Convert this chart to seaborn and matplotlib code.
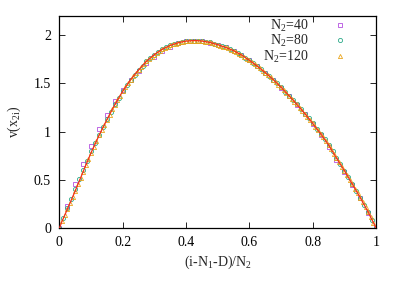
import matplotlib
matplotlib.use('Agg')
import matplotlib.pyplot as plt
import numpy as np
import pandas as pd
import seaborn as sns

# values
v40 = [0.000, 0.228, 0.455, 0.662, 0.855, 1.024, 1.176, 1.314, 1.434, 1.538,
       1.628, 1.714, 1.779, 1.834, 1.883, 1.917, 1.938, 1.945, 1.938, 1.924,
       1.897, 1.876, 1.841, 1.793, 1.738, 1.676, 1.610, 1.538, 1.455, 1.366,
       1.276, 1.179, 1.083, 0.962, 0.841, 0.710, 0.583, 0.445, 0.307, 0.159,
       0.000]

v80 = [0.000, 0.105, 0.205, 0.305, 0.405, 0.505, 0.605, 0.700, 0.800, 0.885,
       0.970, 1.050, 1.132, 1.208, 1.285, 1.353, 1.420, 1.480, 1.540, 1.590,
       1.640, 1.685, 1.730, 1.765, 1.800, 1.830, 1.855, 1.876, 1.895, 1.910,
       1.922, 1.932, 1.939, 1.943, 1.945, 1.943, 1.940, 1.933, 1.925, 1.914,
       1.902, 1.889, 1.874, 1.858, 1.840, 1.818, 1.795, 1.768, 1.740, 1.709,
       1.678, 1.645, 1.612, 1.576, 1.540, 1.500, 1.460, 1.416, 1.372, 1.327,
       1.282, 1.235, 1.187, 1.137, 1.085, 1.032, 0.978, 0.920, 0.862, 0.794,
       0.725, 0.660, 0.595, 0.525, 0.455, 0.385, 0.315, 0.240, 0.165, 0.083,
       0.000]

v120 = [0.000, 0.070, 0.132, 0.195, 0.258, 0.322, 0.385, 0.452, 0.518, 0.585,
        0.652, 0.715, 0.782, 0.840, 0.900, 0.960, 1.015, 1.069, 1.125, 1.177,
        1.230, 1.280, 1.327, 1.373, 1.420, 1.460, 1.500, 1.540, 1.573, 1.607,
        1.640, 1.670, 1.700, 1.730, 1.753, 1.777, 1.800, 1.818, 1.837, 1.855,
        1.868, 1.882, 1.895, 1.904, 1.913, 1.922, 1.928, 1.934, 1.939, 1.941,
        1.943, 1.945, 1.944, 1.942, 1.940, 1.935, 1.930, 1.925, 1.917, 1.910,
        1.902, 1.893, 1.883, 1.874, 1.863, 1.851, 1.840, 1.825, 1.810, 1.795,
        1.777, 1.758, 1.740, 1.719, 1.699, 1.678, 1.656, 1.634, 1.612, 1.588,
        1.564, 1.540, 1.513, 1.487, 1.460, 1.431, 1.401, 1.372, 1.342, 1.312,
        1.282, 1.250, 1.219, 1.187, 1.153, 1.119, 1.085, 1.049, 1.014, 0.978,
        0.939, 0.901, 0.862, 0.816, 0.771, 0.725, 0.682, 0.638, 0.595, 0.548,
        0.502, 0.455, 0.408, 0.362, 0.315, 0.265, 0.215, 0.165, 0.110, 0.055,
        0.000]

x_ticks = [0, 0.2, 0.4, 0.6, 0.8, 1]
x_labels = ['0', '0.2', '0.4', '0.6', '0.8', '1']
y_ticks = [0, 0.5, 1, 1.5, 2]
y_labels = ['0', '0.5', '1', '1.5', '2']

sns.set_style('ticks')
plt.rcParams['font.family'] = ['Liberation Serif', 'DejaVu Serif']
plt.rcParams['mathtext.fontset'] = 'custom'
plt.rcParams['mathtext.rm'] = 'Liberation Serif'
plt.rcParams['mathtext.it'] = 'Liberation Serif:italic'

def frame(v, n):
    return pd.DataFrame({'x': np.arange(n + 1) / n, 'v': v})

d40 = frame(v40, 40)
d80 = frame(v80, 80)
d120 = frame(v120, 120)

fig = plt.figure(figsize=(4.07, 2.85), dpi=100)
ax = fig.add_axes([0.146, 0.2, 0.778, 0.744])

styles = [(d40, 's', 3.2, '#b44fe0', 'N$_2$=40'),
          (d80, 'o', 3.0, '#2aa987', 'N$_2$=80'),
          (d120, '^', 3.0, '#eaa51c', 'N$_2$=120')]
for d, m, size, c, lab in styles:
    sns.lineplot(data=d, x='x', y='v', ax=ax, ls='none', marker=m, ms=size,
                 mfc='none', mec=c, mew=0.6, color=c, legend=False)
handles = list(ax.lines)
for h, st in zip(handles, styles):
    h.set_label(st[4])

sns.lineplot(data=d120, x='x', y='v', ax=ax, color='#f03020', lw=0.9,
             zorder=5, legend=False)

ax.set_xlim(0, 1)
ax.set_ylim(0, 2.2)
ax.set_xticks(x_ticks)
ax.set_xticklabels(x_labels)
ax.set_yticks(y_ticks)
ax.set_yticklabels(y_labels)
ax.tick_params(direction='in', top=True, right=True, length=4, width=0.6,
               labelsize=10, pad=6, colors='black')
for s in ax.spines.values():
    s.set_linewidth(0.9)
    s.set_color('black')

ax.set_xlabel('(i-N$_1$-D)/N$_2$', fontsize=10, labelpad=3)
ax.set_ylabel('v(x$_{\\mathrm{2i}}$)', fontsize=10, labelpad=8)

ax.legend(handles=handles, loc='upper right', frameon=False, markerfirst=False,
          fontsize=10, handlelength=1.0, handletextpad=1.8, labelspacing=-0.05,
          borderaxespad=0.1, bbox_to_anchor=(0.93, 1.025))

fig.savefig('out.png', dpi=100)
